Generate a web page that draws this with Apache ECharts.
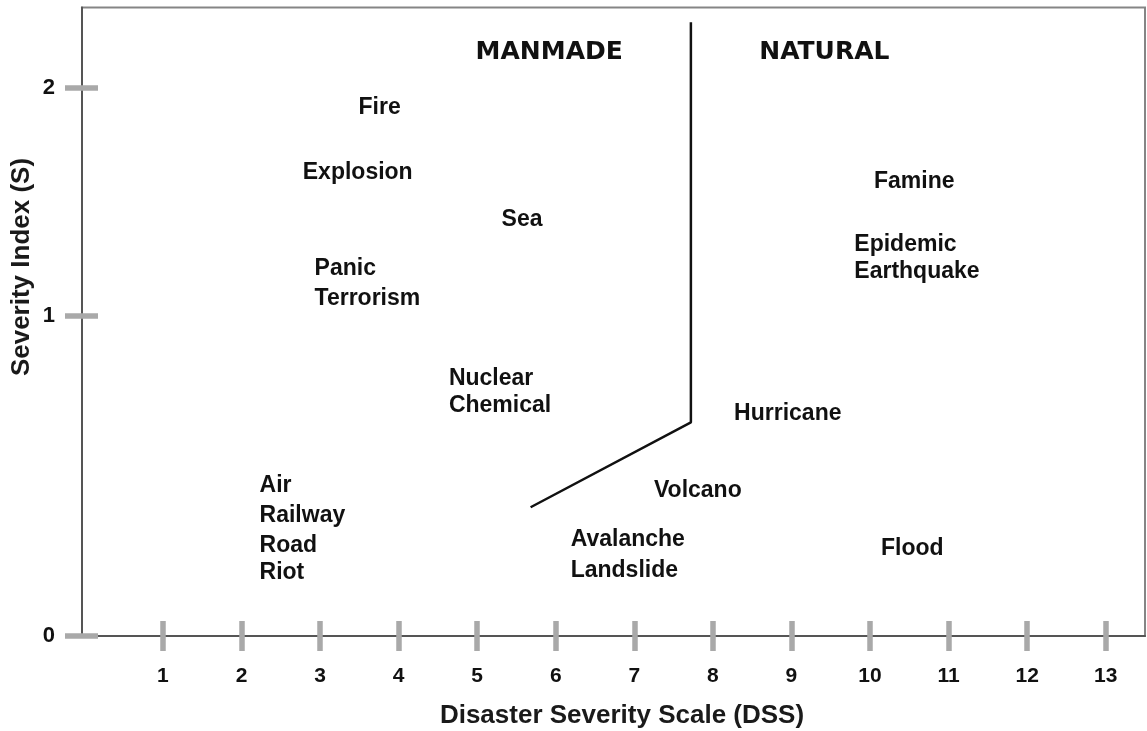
<!DOCTYPE html>
<html><head><meta charset="utf-8">
<script src="https://cdn.jsdelivr.net/npm/echarts@6/dist/echarts.min.js"></script>
<style>html,body{margin:0;padding:0;background:#fff}#c{width:1147px;height:731px}</style>
</head><body><div id="c"></div>
<script>
// Disaster labels (left edge of each text line at DSS, vertical centre at S)
const disasterNames = ['Fire','Explosion','Sea','Panic','Terrorism','Nuclear','Chemical','Air','Railway','Road','Riot',
  'Famine','Epidemic','Earthquake','Hurricane','Volcano','Avalanche','Landslide','Flood'];
const dssValues = [3.49, 2.78, 5.31, 2.93, 2.93, 4.64, 4.64, 2.23, 2.23, 2.23, 2.23,
  10.05, 9.80, 9.80, 8.27, 7.25, 6.19, 6.19, 10.14];
const severityValues = [1.93, 1.69, 1.52, 1.34, 1.23, 0.94, 0.84, 0.55, 0.44, 0.33, 0.23,
  1.66, 1.43, 1.33, 0.81, 0.53, 0.35, 0.24, 0.32];
const regionNames = ['MANMADE', 'NATURAL'];
const regionDss = [4.98, 8.59];
const regionSeverity = [2.13, 2.13];
const boundaryDss = [5.68, 7.72, 7.72];
const boundarySeverity = [0.47, 0.78, 2.24];
const xTickValues = [1,2,3,4,5,6,7,8,9,10,11,12,13];
const xTickLabels = ['1','2','3','4','5','6','7','8','9','10','11','12','13'];
const yTickValues = [0, 1.168, 2];
const yTickLabels = ['0','1','2'];
const xTitle = 'Disaster Severity Scale (DSS)';
const yTitle = 'Severity Index (S)';

const X_MIN = -0.03, X_MAX = 13.5, Y_MIN = 0, Y_MAX = 2.294;
const tickColor = '#a9a9a9';
const labelFont = 'Liberation Sans, Arial, sans-serif';

const chart = echarts.init(document.getElementById('c'), null, {renderer: 'canvas'});
const fmtX = v => { const i = xTickValues.indexOf(v); return i >= 0 ? xTickLabels[i] : ''; };
const fmtY = v => { const i = yTickValues.indexOf(v); return i >= 0 ? yTickLabels[i] : ''; };

chart.setOption({
  animation: false,
  backgroundColor: '#fff',
  grid: {left: 82, right: 2, top: 7.5, bottom: 95, show: true, borderColor: '#858585', borderWidth: 2,
         backgroundColor: 'transparent', outerBoundsMode: 'none'},
  xAxis: [
    {type: 'value', min: X_MIN, max: X_MAX, position: 'bottom',
     axisLine: {show: true, onZero: false, lineStyle: {color: '#555', width: 2}},
     axisTick: {show: true, customValues: xTickValues, length: 15, lineStyle: {color: tickColor, width: 5.5}},
     axisLabel: {customValues: xTickValues, formatter: fmtX, margin: 30, fontSize: 21, fontWeight: 'bold',
                 color: '#111', fontFamily: labelFont},
     splitLine: {show: false}},
    {type: 'value', min: X_MIN, max: X_MAX, position: 'bottom', offset: 0,
     axisLine: {show: false, onZero: false},
     axisTick: {show: true, inside: true, customValues: xTickValues, length: 15, lineStyle: {color: tickColor, width: 5.5}},
     axisLabel: {show: false}, splitLine: {show: false}}
  ],
  yAxis: [
    {type: 'value', min: Y_MIN, max: Y_MAX, position: 'left',
     axisLine: {show: true, onZero: false, lineStyle: {color: '#555', width: 2}},
     axisTick: {show: true, customValues: yTickValues, length: 17, lineStyle: {color: tickColor, width: 5.5}},
     axisLabel: {customValues: yTickValues, formatter: fmtY, margin: 27, fontSize: 22, fontWeight: 'bold',
                 color: '#111', fontFamily: labelFont},
     splitLine: {show: false}},
    {type: 'value', min: Y_MIN, max: Y_MAX, position: 'left', offset: 0,
     axisLine: {show: false, onZero: false},
     axisTick: {show: true, inside: true, customValues: yTickValues, length: 16, lineStyle: {color: tickColor, width: 5.5}},
     axisLabel: {show: false}, splitLine: {show: false}}
  ],
  series: [
    {type: 'line', xAxisIndex: 0, yAxisIndex: 0, showSymbol: false, symbol: 'none', silent: true,
     data: boundaryDss.map((x, i) => [x, boundarySeverity[i]]),
     lineStyle: {color: '#111', width: 2.5}},
    {type: 'scatter', xAxisIndex: 0, yAxisIndex: 0, symbolSize: 0, silent: true,
     itemStyle: {opacity: 1},
     data: disasterNames.map((n, i) => ({name: n, value: [dssValues[i], severityValues[i]]})),
     label: {show: true, position: 'right', distance: 0, formatter: '{b}', fontSize: 23, fontWeight: 'bold',
             fontFamily: labelFont, color: '#111', opacity: 1}},
    {type: 'scatter', xAxisIndex: 0, yAxisIndex: 0, symbolSize: 0, silent: true,
     itemStyle: {opacity: 1},
     data: regionNames.map((n, i) => ({name: n, value: [regionDss[i], regionSeverity[i]]})),
     label: {show: true, position: 'right', distance: 0, formatter: '{b}', fontSize: 25, fontWeight: 'bold',
             fontFamily: 'DejaVu Sans, sans-serif', color: '#111', opacity: 1}}
  ],
  graphic: [
    {type: 'text', x: 622, y: 716, silent: true,
     style: {text: xTitle, align: 'center', verticalAlign: 'middle', fontSize: 26, fontWeight: 'bold',
             fontFamily: labelFont, fill: '#1a1a1a'}},
    {type: 'text', x: 22, y: 267, rotation: Math.PI / 2, silent: true,
     style: {text: yTitle, align: 'center', verticalAlign: 'middle', fontSize: 26, fontWeight: 'bold',
             fontFamily: labelFont, fill: '#1a1a1a'}}
  ]
});
</script></body></html>
